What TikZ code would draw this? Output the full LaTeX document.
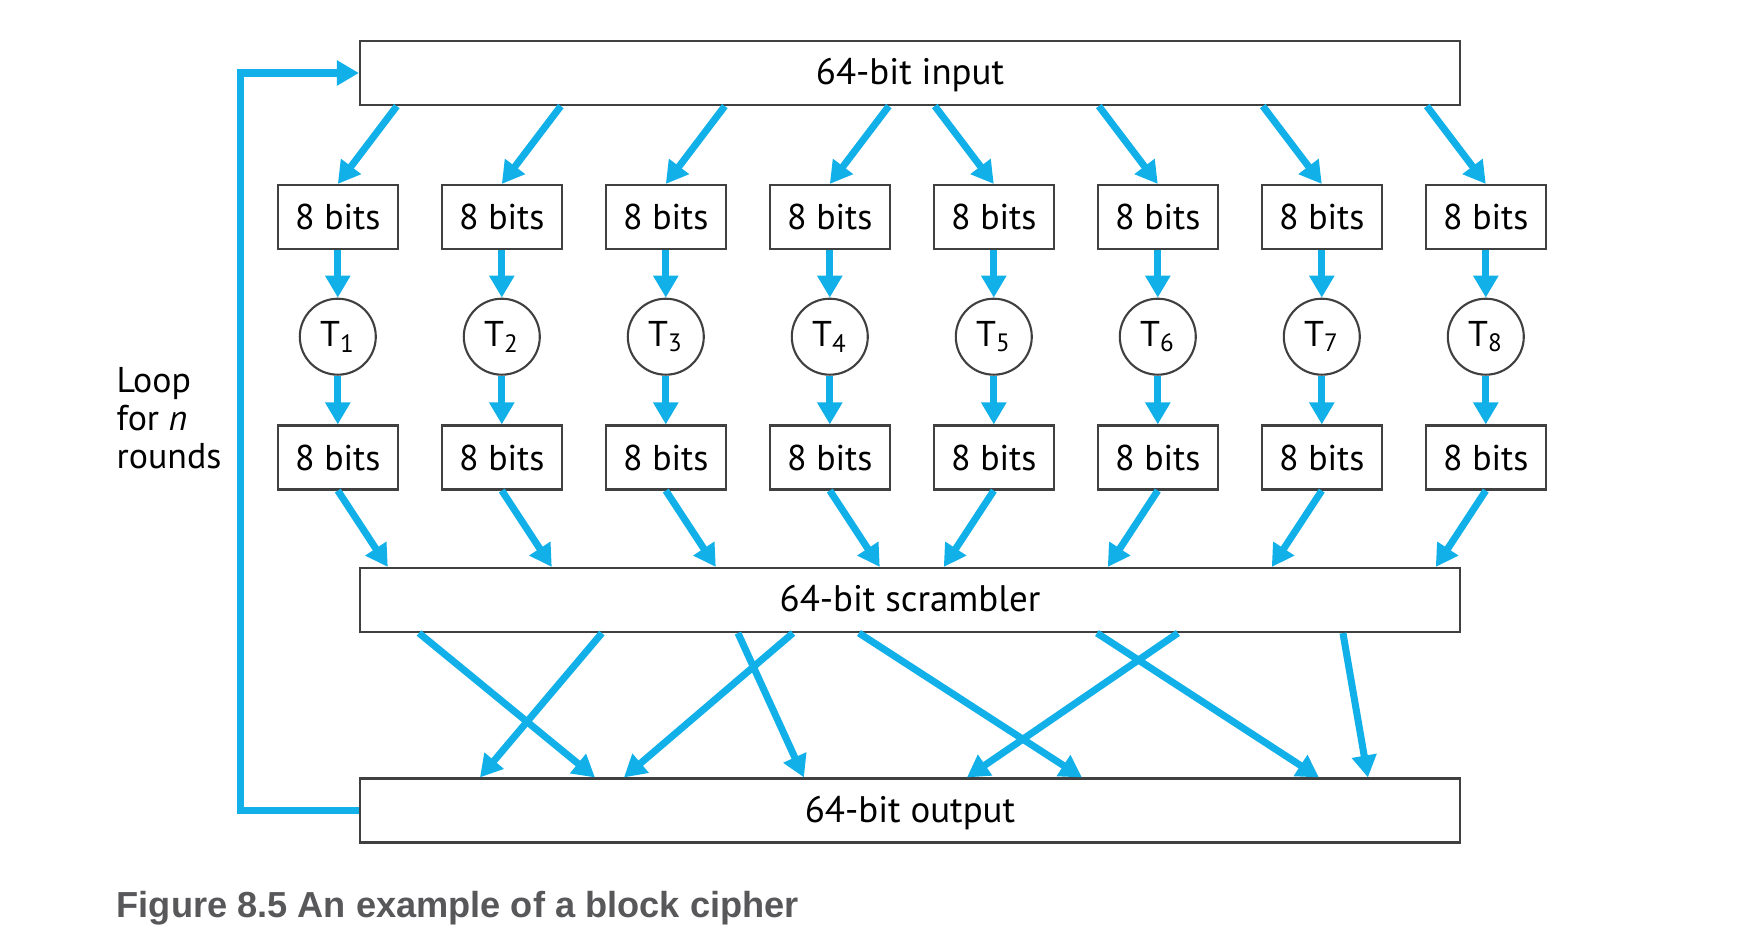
\documentclass[tikz,border=0pt]{standalone}
\usepackage{fontspec}
\setmainfont{PT Sans}
\newfontfamily\capfont{Liberation Sans}
\usetikzlibrary{arrows.meta, positioning, calc}
\definecolor{CipherBlue}{HTML}{12B0E8}
\definecolor{BoxGray}{HTML}{404040}
\definecolor{CapGray}{HTML}{58585A}
\tikzset{
  wordbox/.style={draw=BoxGray, line width=0.6pt, fill=white, minimum width=11cm, minimum height=0.64cm, inner sep=0pt, text height=1.45ex, text depth=0.1ex, font=\fontsize{10.5}{12}\selectfont},
  bits/.style={draw=BoxGray, line width=0.6pt, fill=white, minimum width=1.2cm, minimum height=0.64cm, inner sep=0pt, font=\fontsize{10.2}{12}\selectfont},
  tbox/.style={circle, draw=BoxGray, line width=0.6pt, minimum size=0.76cm, inner sep=0pt, font=\fontsize{10.2}{12}\selectfont},
  arrow/.style={-{Triangle[length=2.2mm, width=2.4mm]}, line width=2pt, draw=CipherBlue}
}

\begin{document}
\begin{tikzpicture}
\useasboundingbox (0,0) rectangle (17.48,-9.52);
\node[wordbox] (input) at (9.10,-0.73) {64-bit input};
\node[wordbox] (scrambler) at (9.10,-6.00) {64-bit scrambler};
\node[wordbox] (output) at (9.10,-8.105) {64-bit output};
\foreach \i in {1,...,8} {
  \node[bits] (in\i) at ({1.738+1.64*\i},-2.17) {8 bits};
  \node[tbox] (t\i) at ({1.738+1.64*\i},-3.367) {T\textsubscript{\i}};
  \node[bits] (out\i) at ({1.738+1.64*\i},-4.575) {8 bits};
  \draw[arrow] (in\i) -- (t\i);
  \draw[arrow] (t\i) -- (out\i);
}
% split the input block
\foreach \i in {1,...,4}
  \draw[arrow] ($(input.south -| in\i.north)+(0.59,0)$) -- (in\i.north);
\foreach \i in {5,...,8}
  \draw[arrow] ($(input.south -| in\i.north)+(-0.59,0)$) -- (in\i.north);
% into the scrambler
\foreach \i in {1,...,4}
  \draw[arrow] (out\i.south) -- ($(scrambler.north -| out\i.south)+(0.50,0)$);
\foreach \i in {5,...,8}
  \draw[arrow] (out\i.south) -- ($(scrambler.north -| out\i.south)+(-0.50,0)$);
% scrambled wires
\foreach \a/\b in {0.60/2.36, 2.43/1.21, 3.79/4.45, 4.34/2.65, 5.00/7.23, 7.38/9.60, 8.19/6.08, 9.84/10.09}
  \draw[arrow] ($(scrambler.south west)+(\a,0)$) -- ($(output.north west)+(\b,0)$);
% feedback loop
\draw[arrow] (output.west) -- ++(-1.18,0) |- (input.west);
\node[align=left, anchor=west, inner sep=0pt, font=\fontsize{10.2}{10.8}\selectfont] (loop) at (1.16,-4.18) {Loop\\for \textit{n}\\rounds};
\node[anchor=base west, inner sep=0pt, text=CapGray, font=\capfont\bfseries\fontsize{10.3}{12}\selectfont] (caption) at (1.16,-9.17) {Figure 8.5 An example of a block cipher};
\end{tikzpicture}
\end{document}
